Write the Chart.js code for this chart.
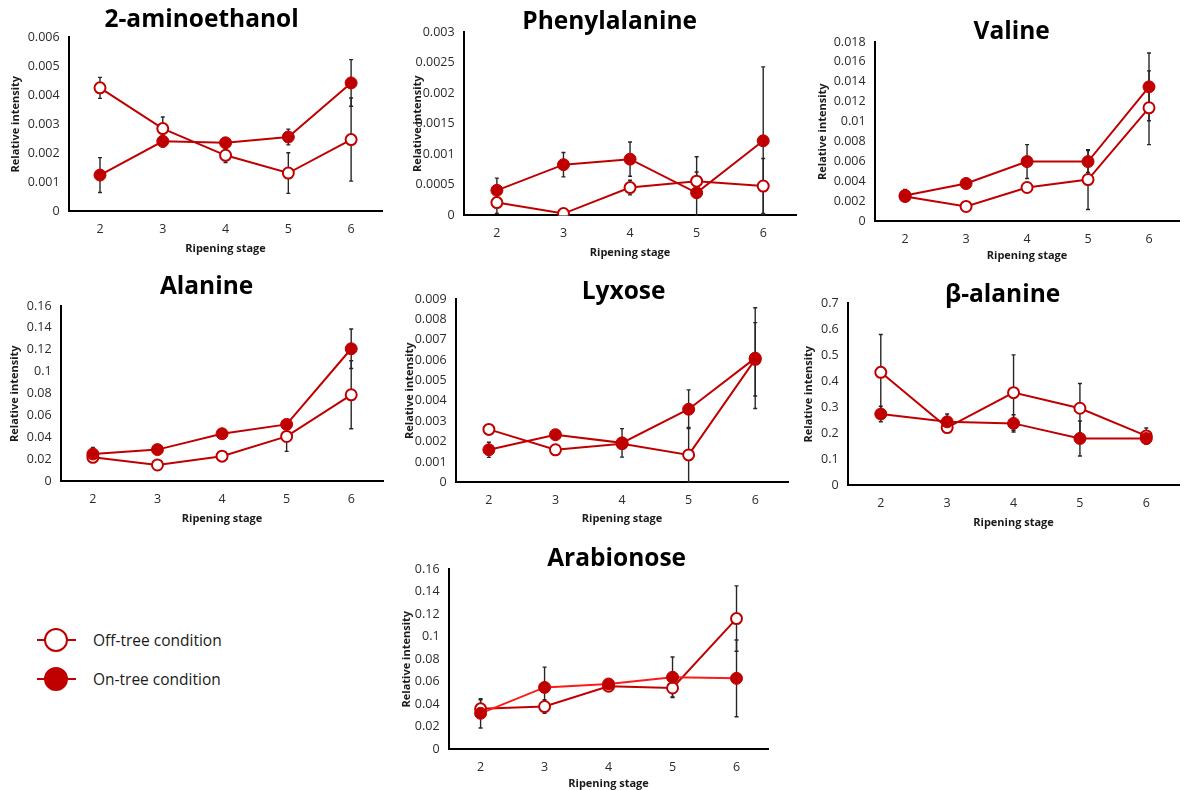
<!DOCTYPE html>
<html>
<head>
<meta charset="utf-8">
<script src="https://cdn.jsdelivr.net/npm/chart.js@4.4.1/dist/chart.umd.min.js"></script>
<style>
  html, body { margin: 0; padding: 0; background: #ffffff; }
  body { width: 1187px; height: 790px; position: relative; overflow: hidden; font-family: 'Open Sans', sans-serif; }
  canvas { position: absolute; }
  .leg { position: absolute; left: 0; height: 0; }
  .leg .ln { position: absolute; left: 37px; width: 39px; height: 2px; top: -1px; background: #C00000; }
  .leg .mk { position: absolute; left: 44px; top: -12px; width: 24px; height: 24px; border-radius: 50%; box-sizing: border-box; }
  .leg .tx { position: absolute; left: 93px; top: -12px; line-height: 24px; font-size: 15.5px; color: #1a1a1a; white-space: nowrap; }
</style>
</head>
<body>
<div class="leg" style="top:640px"><div class="ln"></div><div class="mk" style="background:#fff;border:2.5px solid #C00000"></div><div class="tx">Off-tree condition</div></div>
<div class="leg" style="top:679px"><div class="ln"></div><div class="mk" style="background:#C00000;border:2.5px solid #C00000"></div><div class="tx">On-tree condition</div></div>
<script>
// ---------------- DATA ----------------
const stages = ['2', '3', '4', '5', '6'];
const seriesNames = ['Off-tree condition', 'On-tree condition'];

const aminoethanolOff    = [0.00425, 0.00285, 0.00193, 0.00132, 0.00247];
const aminoethanolOffErr = [0.00036, 0.0004, 0.00025, 0.0007, 0.00143];
const aminoethanolOn     = [0.00125, 0.00241, 0.00236, 0.00256, 0.00442];
const aminoethanolOnErr  = [0.0006, 0.0002, 0.0001, 0.00027, 0.0008];

const phenylalanineOff    = [0.00021, 0.00003, 0.000455, 0.00056, 0.00048];
const phenylalanineOffErr = [0.00018, 0.00002, 0.00012, 0.00015, 0.00045];
const phenylalanineOn     = [0.00041, 0.00083, 0.00092, 0.00037, 0.00122];
const phenylalanineOnErr  = [0.0002, 0.0002, 0.00028, 0.00059, 0.00121];

const valineOff    = [0.0025, 0.0015, 0.0034, 0.0042, 0.0114];
const valineOffErr = [0.0004, 0.0002, 0.0002, 0.003, 0.0037];
const valineOn     = [0.0026, 0.0038, 0.006, 0.006, 0.0135];
const valineOnErr  = [0.0006, 0.0005, 0.0017, 0.0011, 0.0034];

const alanineOff    = [0.022, 0.015, 0.023, 0.041, 0.079];
const alanineOffErr = [0.004, 0.002, 0.002, 0.0136, 0.031];
const alanineOn     = [0.025, 0.029, 0.0435, 0.052, 0.121];
const alanineOnErr  = [0.006, 0.002, 0.002, 0.002, 0.018];

const lyxoseOff    = [0.0026, 0.0016, 0.0019, 0.00135, 0.00604];
const lyxoseOffErr = [0.0002, 0.0001, 0.0002, 0.00135, 0.0018];
const lyxoseOn     = [0.0016, 0.00234, 0.00194, 0.00359, 0.0061];
const lyxoseOnErr  = [0.00037, 0.0001, 0.0007, 0.00095, 0.00247];

const betaAlanineOff    = [0.434, 0.222, 0.356, 0.296, 0.19];
const betaAlanineOffErr = [0.145, 0.01, 0.145, 0.095, 0.03];
const betaAlanineOn     = [0.274, 0.244, 0.238, 0.18, 0.18];
const betaAlanineOnErr  = [0.03, 0.03, 0.033, 0.067, 0.02];

const arabionoseOff    = [0.036, 0.038, 0.056, 0.0545, 0.116];
const arabionoseOffErr = [0.008, 0.006, 0.002, 0.008, 0.029];
const arabionoseOn     = [0.032, 0.055, 0.058, 0.064, 0.063];
const arabionoseOnErr  = [0.013, 0.018, 0.002, 0.018, 0.034];

const panelTitles = ['2-aminoethanol', 'Phenylalanine', 'Valine', 'Alanine', 'Lyxose', '\u03B2-alanine', 'Arabionose'];
const yMaxes = [0.006, 0.003, 0.018, 0.16, 0.009, 0.7, 0.16];
const ySteps = [0.001, 0.0005, 0.002, 0.02, 0.001, 0.1, 0.02];
const yAxisTitle = 'Relative intensity';
const xAxisTitle = 'Ripening stage';

// ---------------- LAYOUT (page pixels) ----------------
const layouts = [
  {axisX: 69,  top: 37,  right: 390,  bottom: 211, yTitleX: 16,  xTitleY: 248, titleX: 202,  titleY: 20},
  {axisX: 464, top: 32,  right: 804,  bottom: 215, yTitleX: 418, xTitleY: 252, titleX: 610,  titleY: 22},
  {axisX: 875, top: 42,  right: 1187, bottom: 221, yTitleX: 823, xTitleY: 255, titleX: 1012, titleY: 32},
  {axisX: 61,  top: 306, right: 391,  bottom: 481, yTitleX: 15,  xTitleY: 518, titleX: 207,  titleY: 287},
  {axisX: 456, top: 299, right: 796,  bottom: 482, yTitleX: 410, xTitleY: 518, titleX: 624,  titleY: 292},
  {axisX: 848, top: 303, right: 1187, bottom: 485, yTitleX: 809, xTitleY: 522, titleX: 1003, titleY: 295},
  {axisX: 449, top: 569, right: 776,  bottom: 749, yTitleX: 407, xTitleY: 783, titleX: 617,  titleY: 559}
];

const panelData = [
  [aminoethanolOff, aminoethanolOffErr, aminoethanolOn, aminoethanolOnErr],
  [phenylalanineOff, phenylalanineOffErr, phenylalanineOn, phenylalanineOnErr],
  [valineOff, valineOffErr, valineOn, valineOnErr],
  [alanineOff, alanineOffErr, alanineOn, alanineOnErr],
  [lyxoseOff, lyxoseOffErr, lyxoseOn, lyxoseOnErr],
  [betaAlanineOff, betaAlanineOffErr, betaAlanineOn, betaAlanineOnErr],
  [arabionoseOff, arabionoseOffErr, arabionoseOn, arabionoseOnErr]
];

const RED = '#C00000';
const FONT = "'Open Sans', sans-serif";
Chart.defaults.font.family = FONT;

const errorBarPlugin = {
  id: 'errorBars',
  beforeDatasetsDraw(chart) {
    const ctx = chart.ctx;
    const xs = chart.scales.x, ys = chart.scales.y;
    const area = chart.chartArea;
    ctx.save();
    ctx.beginPath();
    ctx.rect(area.left, area.top - 30, area.right - area.left, area.bottom - area.top + 30);
    ctx.clip();
    ctx.strokeStyle = '#262626';
    ctx.lineWidth = 1.4;
    chart.data.datasets.forEach((ds) => {
      if (!ds.errors) return;
      ds.data.forEach((v, i) => {
        const e = ds.errors[i];
        const x = xs.getPixelForValue(i);
        const yTop = ys.getPixelForValue(v + e);
        const yBot = Math.min(ys.getPixelForValue(Math.max(v - e, 0)), area.bottom);
        ctx.beginPath();
        ctx.moveTo(x, yTop); ctx.lineTo(x, yBot);
        ctx.moveTo(x - 2, yTop); ctx.lineTo(x + 2, yTop);
        ctx.moveTo(x - 2, yBot); ctx.lineTo(x + 2, yBot);
        ctx.stroke();
      });
    });
    ctx.restore();
  }
};

const PAD_TOP = 40;
const Y_TITLE_LH = 11 * 1.2;

panelTitles.forEach((title, p) => {
  const L = layouts[p];
  const [off, offErr, on, onErr] = panelData[p];
  const canvasLeft = L.yTitleX - Y_TITLE_LH / 2;
  const canvasTop = L.top - PAD_TOP;
  const yW = L.axisX - canvasLeft;
  const xH = L.xTitleY + Y_TITLE_LH / 2 - L.bottom;
  const w = Math.round(L.right - canvasLeft);
  const h = Math.round(PAD_TOP + (L.bottom - L.top) + xH);

  const cv = document.createElement('canvas');
  cv.width = w; cv.height = h;
  cv.style.left = canvasLeft + 'px';
  cv.style.top = canvasTop + 'px';
  cv.style.width = w + 'px';
  cv.style.height = h + 'px';
  document.body.appendChild(cv);

  const onLineColor = (p === 6) ? '#FF1A1A' : RED;

  const titlePlugin = {
    id: 'panelTitle',
    afterDraw(chart) {
      const ctx = chart.ctx;
      ctx.save();
      ctx.font = "bold 24.5px " + FONT;
      ctx.fillStyle = '#000';
      ctx.textAlign = 'center';
      ctx.textBaseline = 'middle';
      ctx.fillText(title, L.titleX - canvasLeft, L.titleY - canvasTop);
      ctx.restore();
    }
  };

  new Chart(cv, {
    type: 'line',
    data: {
      labels: stages,
      datasets: [
        {
          label: seriesNames[1], data: on, errors: onErr,
          borderColor: onLineColor, borderWidth: 2,
          pointBackgroundColor: RED, pointBorderColor: RED,
          pointRadius: 6, pointBorderWidth: 1, tension: 0
        },
        {
          label: seriesNames[0], data: off, errors: offErr,
          borderColor: RED, borderWidth: 2,
          pointBackgroundColor: '#ffffff', pointBorderColor: RED,
          pointRadius: 5.5, pointBorderWidth: 2, tension: 0
        }
      ]
    },
    options: {
      responsive: false,
      animation: false,
      devicePixelRatio: 1,
      layout: { padding: { top: PAD_TOP, left: 0, right: 0, bottom: 0 } },
      plugins: { legend: { display: false }, title: { display: false }, tooltip: { enabled: false } },
      scales: {
        x: {
          type: 'category', offset: true,
          grid: { display: false, drawTicks: false },
          border: { display: true, color: '#000', width: 2 },
          ticks: { color: '#2b2b2b', font: { size: 12.5 }, padding: 11, maxRotation: 0, autoSkip: false },
          title: { display: true, text: xAxisTitle, color: '#1a1a1a', font: { size: 11, weight: 'bold' }, padding: 0 },
          afterFit(scale) { scale.height = xH; }
        },
        y: {
          min: 0, max: yMaxes[p],
          grid: { display: false, drawTicks: false },
          border: { display: true, color: '#000', width: 2 },
          ticks: {
            stepSize: ySteps[p], color: '#2b2b2b', font: { size: 12.5 }, padding: 9,
            callback: (v) => String(+Number(v).toFixed(6))
          },
          title: { display: true, text: yAxisTitle, color: '#1a1a1a', font: { size: 11, weight: 'bold' }, padding: 0 },
          afterFit(scale) { scale.width = yW; }
        }
      }
    },
    plugins: [errorBarPlugin, titlePlugin]
  });
});
</script>
</body>
</html>
